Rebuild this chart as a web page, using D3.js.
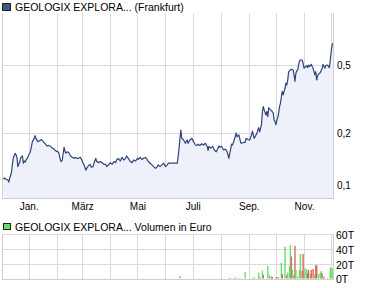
<!DOCTYPE html>
<html>
<head>
<meta charset="utf-8">
<script src="https://cdn.jsdelivr.net/npm/d3@7"></script>
<style>
body { margin: 0; background: #fff; }
svg { display: block; font-family: "Liberation Sans", Arial, sans-serif; }
</style>
</head>
<body>
<div id="chart"></div>
<script>
var title = "GEOLOGIX EXPLORA... (Frankfurt)";
var volTitle = "GEOLOGIX EXPLORA... Volumen in Euro";
var startDate = new Date(2009, 11, 3);
var endDate = new Date(2010, 11, 3);
var monthLabels = ["Jan.", "", "März", "", "Mai", "", "Juli", "", "Sep.", "", "Nov.", ""];
var priceTicks = [0.1, 0.2, 0.5];
var volTicks = [0, 20000, 40000, 60000];

// days after startDate
var priceDays = [
  1, 2, 4, 6, 7, 8, 9, 10, 11, 12,
  14, 15, 16, 17, 19, 20, 22, 23, 24, 25,
  26, 28, 29, 30, 31, 33, 35, 36, 37, 39,
  41, 43, 45, 47, 49, 51, 53, 55, 57, 58,
  60, 62, 63, 64, 65, 66, 68, 69, 70, 71,
  73, 75, 77, 79, 80, 82, 84, 86, 88, 90,
  91, 92, 93, 95, 97, 98, 100, 101, 103, 104,
  106, 108, 110, 112, 114, 115, 117, 119, 121, 123,
  125, 126, 128, 130, 132, 134, 136, 137, 139, 141,
  143, 145, 147, 149, 150, 152, 154, 156, 158, 160,
  161, 163, 165, 167, 169, 171, 172, 174, 176, 178,
  180, 182, 183, 186, 190, 193, 194, 195, 196, 197,
  198, 200, 202, 204, 205, 207, 209, 211, 213, 215,
  216, 218, 220, 222, 224, 226, 227, 228, 230, 232,
  234, 236, 237, 239, 240, 242, 244, 246, 248, 249,
  250, 251, 252, 253, 254, 255, 257, 258, 259, 261,
  262, 263, 264, 266, 268, 269, 271, 273, 275, 276,
  277, 278, 280, 281, 282, 283, 284, 286, 287, 288,
  289, 291, 292, 293, 294, 295, 297, 299, 300, 301,
  302, 303, 304, 305, 306, 307, 308, 309, 310, 311,
  312, 313, 314, 315, 316, 318, 319, 321, 322, 323,
  324, 325, 326, 327, 328, 329, 331, 332, 333, 335,
  336, 337, 338, 339, 341, 342, 343, 344, 345, 346,
  347, 348, 349, 351, 353, 354, 355, 356, 357, 359,
  360, 361, 362, 363, 364, 365
];
var priceValues = [
  0.108, 0.110, 0.108, 0.107, 0.104, 0.110, 0.114, 0.119, 0.133, 0.144,
  0.153, 0.150, 0.144, 0.128, 0.136, 0.144, 0.148, 0.134, 0.138, 0.136,
  0.140, 0.145, 0.150, 0.153, 0.158, 0.179, 0.187, 0.194, 0.187, 0.179,
  0.181, 0.184, 0.179, 0.174, 0.169, 0.170, 0.168, 0.164, 0.162, 0.159,
  0.157, 0.155, 0.147, 0.139, 0.137, 0.140, 0.166, 0.157, 0.153, 0.156,
  0.155, 0.148, 0.145, 0.143, 0.145, 0.143, 0.143, 0.145, 0.138, 0.131,
  0.127, 0.122, 0.125, 0.130, 0.132, 0.127, 0.128, 0.134, 0.143, 0.137,
  0.135, 0.137, 0.135, 0.132, 0.132, 0.128, 0.131, 0.135, 0.132, 0.137,
  0.135, 0.140, 0.143, 0.138, 0.145, 0.140, 0.143, 0.148, 0.143, 0.137,
  0.135, 0.140, 0.138, 0.143, 0.141, 0.145, 0.141, 0.143, 0.145, 0.140,
  0.137, 0.134, 0.131, 0.128, 0.125, 0.128, 0.131, 0.128, 0.131, 0.134,
  0.128, 0.131, 0.134, 0.134, 0.134, 0.134, 0.147, 0.164, 0.187, 0.209,
  0.187, 0.183, 0.175, 0.183, 0.175, 0.183, 0.187, 0.179, 0.171, 0.170,
  0.173, 0.170, 0.174, 0.171, 0.175, 0.168, 0.159, 0.168, 0.164, 0.168,
  0.160, 0.156, 0.160, 0.169, 0.166, 0.168, 0.160, 0.162, 0.157, 0.150,
  0.143, 0.153, 0.162, 0.173, 0.171, 0.177, 0.191, 0.201, 0.191, 0.196,
  0.187, 0.177, 0.175, 0.177, 0.177, 0.187, 0.184, 0.183, 0.196, 0.206,
  0.196, 0.187, 0.196, 0.200, 0.209, 0.216, 0.204, 0.224, 0.268, 0.286,
  0.274, 0.256, 0.268, 0.250, 0.282, 0.278, 0.271, 0.263, 0.239, 0.234,
  0.224, 0.239, 0.247, 0.263, 0.286, 0.300, 0.328, 0.351, 0.335, 0.351,
  0.366, 0.392, 0.383, 0.409, 0.458, 0.468, 0.472, 0.468, 0.438, 0.401,
  0.448, 0.462, 0.468, 0.500, 0.528, 0.535, 0.535, 0.512, 0.479, 0.490,
  0.496, 0.483, 0.500, 0.490, 0.505, 0.490, 0.479, 0.458, 0.438, 0.458,
  0.409, 0.434, 0.442, 0.452, 0.479, 0.505, 0.490, 0.479, 0.496, 0.500,
  0.490, 0.483, 0.535, 0.598, 0.655, 0.672
];

var volDays = [
  196, 251, 252, 256, 258, 262, 268, 276, 278, 283,
  284, 287, 288, 293, 295, 297, 298, 302, 303, 305,
  308, 309, 312, 314, 315, 317, 318, 319, 320, 322,
  323, 324, 326, 328, 329, 331, 332, 334, 336, 337,
  338, 340, 341, 343, 345, 346, 347, 349, 351, 352,
  353, 355, 359, 362, 364, 365
];
// thousands of euro
var volValues = [
  3.4, 1, 0.5, 0.8, 1.5, 0.7, 8.8, 0.7, 2, 7.8,
  1.5, 10.5, 5, 16.9, 4.7, 2.5, 2, 2, 2, 2,
  21, 6, 43, 4.7, 7.8, 16.9, 45, 29.5, 11.5, 4.7,
  44, 11.5, 2.5, 11.5, 33, 10.5, 33, 13.7, 12.4, 7,
  11.5, 6, 11.5, 12.9, 6, 18, 18, 6, 7.8, 10,
  7, 2.5, 1, 15, 13, 14
];
// 1 = up day (green), 0 = down day (red)
var volUp = [
  1, 1, 0, 1, 1, 1, 1, 1, 1, 1,
  0, 1, 0, 1, 1, 0, 0, 1, 0, 1,
  1, 0, 1, 0, 1, 1, 1, 0, 1, 0,
  0, 1, 1, 1, 1, 0, 0, 1, 1, 0,
  0, 1, 0, 0, 1, 0, 0, 1, 1, 1,
  0, 0, 1, 1, 1, 1
];

var W = 375, H = 288;
var left = 2.5, right = 333;
var top1 = 13, bottom1 = 198;
var top2 = 234, bottom2 = 278.5;
var gridColor = "#dadada";

var prices = priceDays.map((d, i) => ({ date: d3.timeDay.offset(startDate, d), v: priceValues[i] }));
var vols = volDays.map((d, i) => ({ date: d3.timeDay.offset(startDate, d), v: volValues[i] * 1000, up: volUp[i] }));

var svg = d3.select("#chart").append("svg").attr("width", W).attr("height", H);

var x = d3.scaleTime().domain([startDate, endDate]).range([left, right]);
var y = d3.scaleLog().domain([0.084, 1.005]).range([bottom1, top1]);
var yv = d3.scaleLinear().domain([0, 60000]).range([bottom2, top2]);

var months = d3.timeMonth.range(new Date(2010, 0, 1), new Date(2010, 11, 2));

// title
svg.append("rect").attr("x", 2.5).attr("y", 3.5).attr("width", 8).attr("height", 7)
  .attr("fill", "#3f5686").attr("stroke", "#222");
svg.append("text").attr("x", 15).attr("y", 10.5).attr("font-size", 10.5).attr("fill", "#000").text(title);

// main grid
var g1 = svg.append("g").attr("shape-rendering", "crispEdges");
g1.selectAll(".vg").data(months).enter().append("line")
  .attr("x1", (d) => Math.round(x(d)) + 0.5).attr("x2", (d) => Math.round(x(d)) + 0.5)
  .attr("y1", top1).attr("y2", bottom1).attr("stroke", gridColor);
g1.selectAll(".hg").data(priceTicks).enter().append("line")
  .attr("x1", left).attr("x2", right)
  .attr("y1", (d) => Math.round(y(d)) + 0.5).attr("y2", (d) => Math.round(y(d)) + 0.5)
  .attr("stroke", gridColor);

// area + line
var area = d3.area().x((d) => x(d.date)).y0(bottom1).y1((d) => y(d.v));
var line = d3.line().x((d) => x(d.date)).y((d) => y(d.v));
svg.append("path").datum(prices).attr("d", area).attr("fill", "#eef1fa");
svg.append("path").datum(prices).attr("d", line).attr("fill", "none")
  .attr("stroke", "#2f4577").attr("stroke-width", 1.2).attr("stroke-linejoin", "round");

// frame
svg.append("path").attr("shape-rendering", "crispEdges")
  .attr("d", `M${left},${top1}V${bottom1 + 0.5}H${right + 0.5}V${top1}`)
  .attr("fill", "none").attr("stroke", "#cfcfcf");

// x labels
var xAxis = d3.axisBottom(x).tickValues(months).tickSize(0).tickPadding(0)
  .tickFormat((d, i) => monthLabels[i]);
var gx = svg.append("g").attr("transform", `translate(0,${bottom1 + 5})`).call(xAxis);
gx.select(".domain").remove();
gx.selectAll("text").attr("font-size", 10).attr("font-family", null).attr("fill", "#000").attr("dy", "0.71em");

// y labels
var yAxis = d3.axisRight(y).tickValues(priceTicks).tickSize(0).tickPadding(0)
  .tickFormat((d) => d3.format(".1f")(d).replace(".", ","));
var gy = svg.append("g").attr("transform", `translate(${right + 4},0)`).call(yAxis);
gy.select(".domain").remove();
gy.selectAll("text").attr("font-size", 10).attr("font-family", null).attr("fill", "#000");

// volume legend
svg.append("rect").attr("x", 3.5).attr("y", 223.5).attr("width", 7).attr("height", 6)
  .attr("fill", "#66dd66").attr("stroke", "#222");
svg.append("text").attr("x", 15).attr("y", 230.5).attr("font-size", 10.5).attr("fill", "#000").text(volTitle);

// volume grid
var g2 = svg.append("g").attr("shape-rendering", "crispEdges");
g2.selectAll(".vg").data(months).enter().append("line")
  .attr("x1", (d) => Math.round(x(d)) + 0.5).attr("x2", (d) => Math.round(x(d)) + 0.5)
  .attr("y1", top2).attr("y2", bottom2).attr("stroke", gridColor);
g2.selectAll(".hg").data(volTicks.slice(1)).enter().append("line")
  .attr("x1", left).attr("x2", right)
  .attr("y1", (d) => Math.round(yv(d)) + 0.5).attr("y2", (d) => Math.round(yv(d)) + 0.5)
  .attr("stroke", gridColor);

// volume bars
svg.append("g").selectAll("rect").data(vols).enter().append("rect")
  .attr("x", (d) => x(d.date) - 0.7).attr("width", 1.4)
  .attr("y", (d) => yv(d.v)).attr("height", (d) => bottom2 - yv(d.v))
  .attr("fill", (d) => (d.up ? "#66dd66" : "#dd6666"));

svg.append("path").attr("shape-rendering", "crispEdges")
  .attr("d", `M${left},${top2}V${bottom2 + 0.5}H${right + 0.5}V${top2}`)
  .attr("fill", "none").attr("stroke", "#cfcfcf");

var yvAxis = d3.axisRight(yv).tickValues(volTicks).tickSize(0).tickPadding(0)
  .tickFormat((d) => d / 1000 + "T");
var gyv = svg.append("g").attr("transform", `translate(${right + 3},1)`).call(yvAxis);
gyv.select(".domain").remove();
gyv.selectAll("text").attr("font-size", 10.5).attr("font-family", null).attr("fill", "#000");
</script>
</body>
</html>
